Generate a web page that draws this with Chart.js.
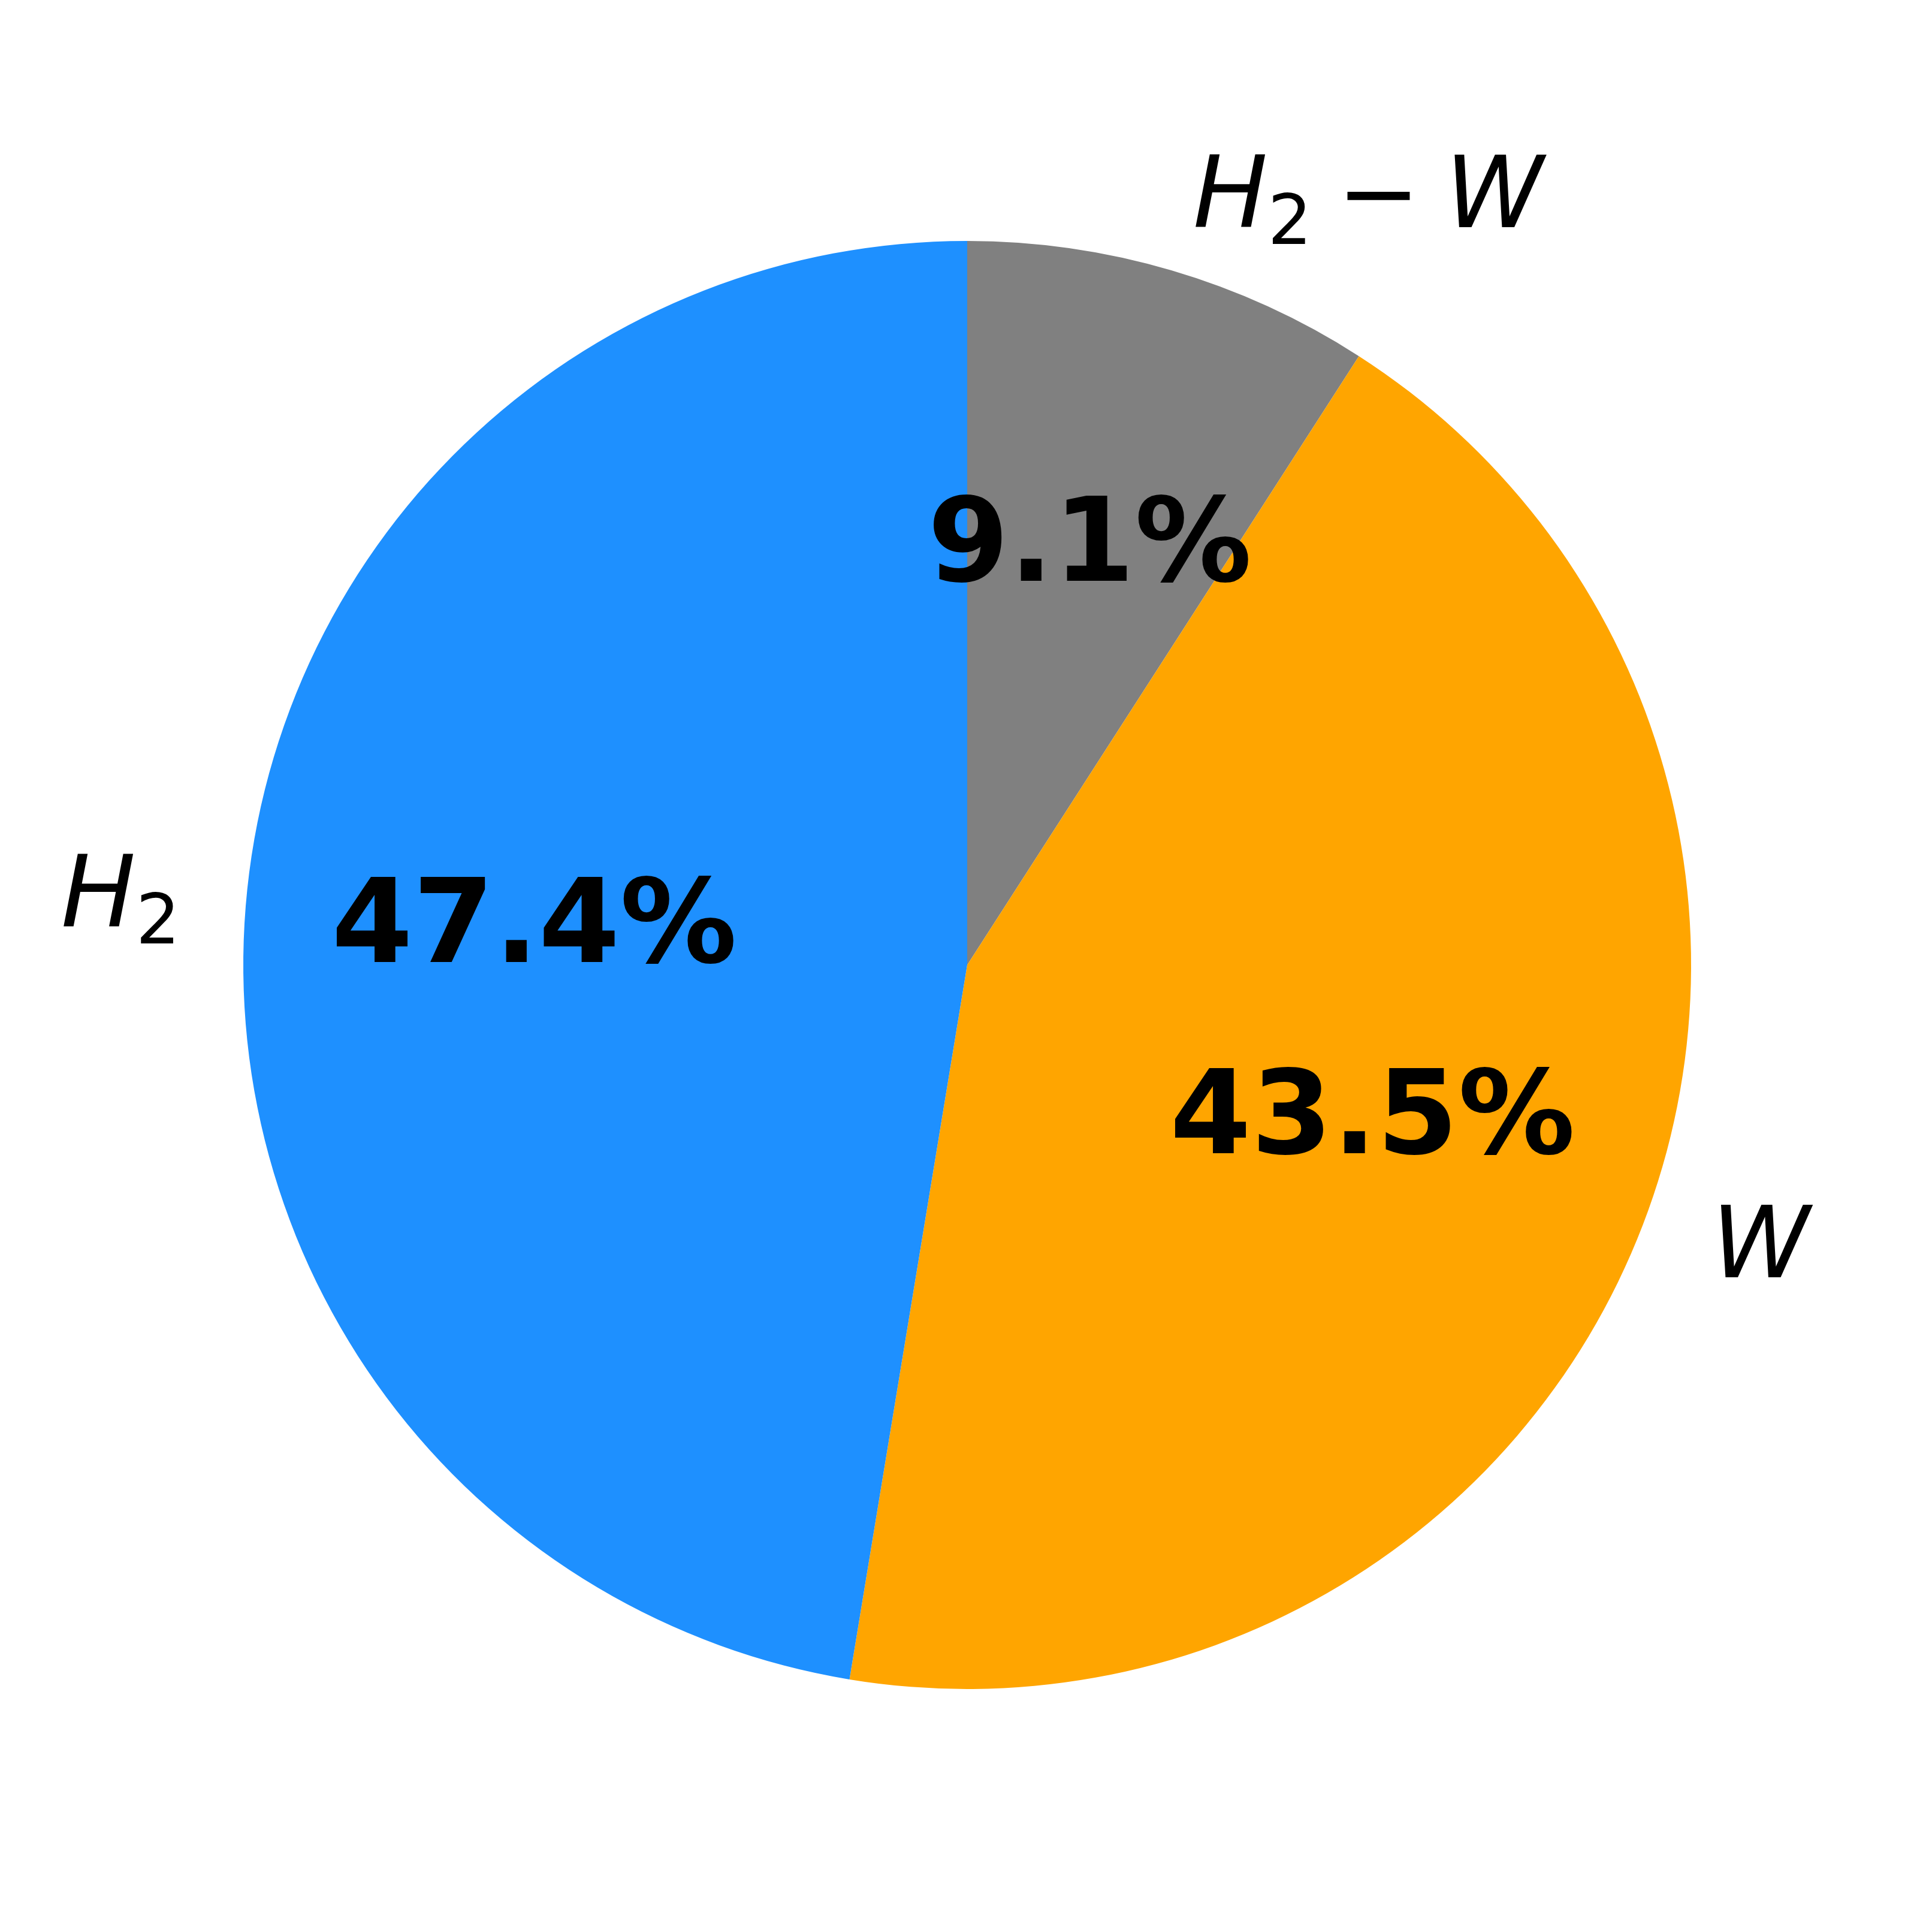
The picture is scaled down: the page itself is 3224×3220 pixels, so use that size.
<!DOCTYPE html>
<html>
<head>
<meta charset="utf-8">
<script src="https://cdn.jsdelivr.net/npm/chart.js@4/dist/chart.umd.min.js"></script>
<style>
html, body { margin: 0; padding: 0; background: #fff; }
#wrap { width: 3224px; height: 3220px; }
</style>
</head>
<body>
<div id="wrap"><canvas id="grafica" width="3224" height="3220"></canvas></div>
<script>
// categories in drawing order (clockwise from top)
const categorias = ["H2−W", "W", "H2"];
const valores = [9.1, 43.5, 47.4];
const colores = ["#808080", "#FFA500", "#1E90FF"];

const LABEL_SIZE = 166;
const PCT_SIZE = 195;

// letters italic, digit after a letter as subscript, minus with spaces
function partesMath(texto){
const partes = [];
for (let i = 0; i < texto.length; i++) {
const c = texto[i];
if (/[0-9]/.test(c) && i > 0 && /[A-Za-z]/.test(texto[i-1])) {
partes.push({s: c, font: Math.round(LABEL_SIZE*0.7) + "px 'DejaVu Sans'", dy: 28, gap: 0});
} else if (c === "−") {
const sp = LABEL_SIZE*0.25;
partes.push({s: "", font: LABEL_SIZE + "px 'DejaVu Sans'", dy: 0, gap: sp});
partes.push({s: c, font: LABEL_SIZE + "px 'DejaVu Sans'", dy: 0, gap: sp});
} else {
partes.push({s: c, font: "italic " + LABEL_SIZE + "px 'DejaVu Sans'", dy: 0, gap: 0});
}
}
return partes;
}

// width up to the ink of the last glyph
function anchoMath(ctx, texto){
const partes = partesMath(texto);
ctx.textAlign = "left";
let w = 0;
partes.forEach((t, i) => {
ctx.font = t.font;
const m = ctx.measureText(t.s);
if (i === partes.length - 1) w += m.actualBoundingBoxRight;
else w += m.width + t.gap;
});
return w;
}

function dibujarMath(ctx, texto, x, base, alinear){
let cx = alinear === "right" ? x - anchoMath(ctx, texto) : x + 2;
ctx.textAlign = "left";
ctx.textBaseline = "alphabetic";
for (const t of partesMath(texto)) {
ctx.font = t.font;
if (t.s) ctx.fillText(t.s, cx, base + t.dy);
cx += ctx.measureText(t.s).width + t.gap;
}
}

const etiquetas = {
id: "etiquetas",
afterDraw(chart){
const ctx = chart.ctx;
const meta = chart.getDatasetMeta(0);
const total = valores.reduce((a, b) => a + b, 0);
ctx.save();
ctx.fillStyle = "#000";
meta.data.forEach((arc, i) => {
const p = arc.getProps(["x", "y", "startAngle", "endAngle", "outerRadius"], true);
const mid = (p.startAngle + p.endAngle) / 2;
const cos = Math.cos(mid), sin = Math.sin(mid);

// outer label at 1.1 r
const lx = p.x + cos * p.outerRadius * 1.1;
const ly = p.y + sin * p.outerRadius * 1.1;
dibujarMath(ctx, categorias[i], lx, ly + 44, lx < p.x ? "right" : "left");

// percentage at 0.6 r
const px = p.x + cos * p.outerRadius * 0.6;
const py = p.y + sin * p.outerRadius * 0.6;
ctx.font = "bold " + PCT_SIZE + "px 'DejaVu Sans'";
ctx.textAlign = "center";
ctx.textBaseline = "alphabetic";
ctx.fillText((valores[i] / total * 100).toFixed(1) + "%", px, py + 54);
});
ctx.restore();
}
};

new Chart(document.getElementById("grafica"), {
type: "pie",
data: {
labels: categorias,
datasets: [{
data: valores,
backgroundColor: colores,
borderWidth: 0
}]
},
options: {
responsive: false,
devicePixelRatio: 1,
animation: false,
layout: { padding: { left: 406, right: 402, top: 402, bottom: 402 } },
plugins: {
legend: { display: false },
tooltip: { enabled: false }
}
},
plugins: [etiquetas]
});
</script>
</body>
</html>
